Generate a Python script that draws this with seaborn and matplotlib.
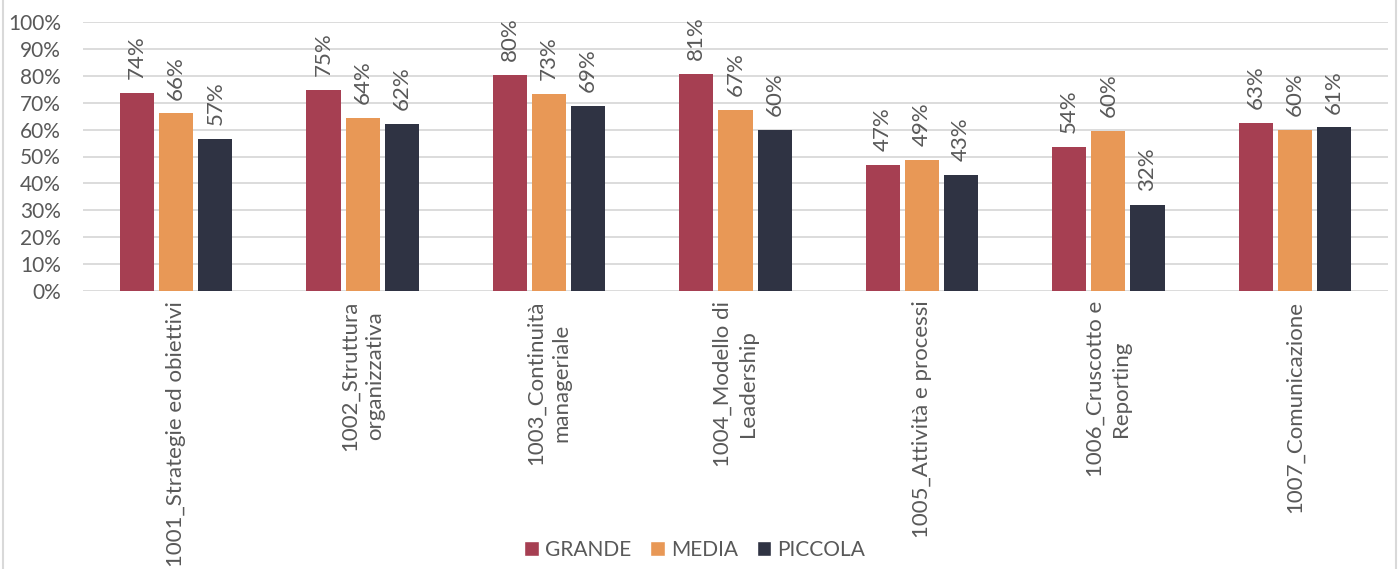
import matplotlib
matplotlib.use("Agg")
import matplotlib.pyplot as plt
from matplotlib.lines import Line2D
from matplotlib.patches import Patch
from matplotlib.ticker import FuncFormatter
import pandas as pd
import seaborn as sns

categories = [
    "1001_Strategie ed obiettivi",
    "1002_Struttura\norganizzativa",
    "1003_Continuità\nmanageriale",
    "1004_Modello di\nLeadership",
    "1005_Attività e processi",
    "1006_Cruscotto e\nReporting",
    "1007_Comunicazione",
]
sizes = ["GRANDE", "MEDIA", "PICCOLA"]
grande = [73.7, 74.8, 80.3, 80.6, 47.0, 53.6, 62.6]
media = [66.0, 64.2, 73.1, 67.3, 48.7, 59.6, 59.8]
piccola = [56.6, 62.1, 68.8, 60.0, 43.2, 32.0, 60.8]
colors = ["#A63F52", "#E89856", "#2F3343"]
yticks = [0, 10, 20, 30, 40, 50, 60, 70, 80, 90, 100]

df = pd.DataFrame({
    "area": categories * 3,
    "size": [s for s in sizes for _ in categories],
    "value": grande + media + piccola,
})

sns.set_style("white")
plt.rcParams["font.family"] = ["Lato", "DejaVu Sans"]
txt = "#595959"
grid = "#D9D9D9"

fig = plt.figure(figsize=(13.98, 5.69), dpi=100)
ax = fig.add_axes([83 / 1398, 1 - 291 / 569, (1388 - 83) / 1398, 269 / 569])

sns.barplot(data=df, x="area", y="value", hue="size", hue_order=sizes,
            palette=colors, width=0.63, gap=0.13, linewidth=0,
            saturation=1, legend=False, ax=ax)

for c in ax.containers:
    ax.bar_label(c, fmt="{:.0f}%", rotation=90, padding=10, color=txt, fontsize=16)

ax.set_ylim(0, 100)
ax.set_xlim(-0.5, len(categories) - 0.5)
ax.set_yticks(yticks)
ax.yaxis.set_major_formatter(FuncFormatter(lambda v, p: f"{v:.0f}%"))
ax.yaxis.grid(True, color=grid, linewidth=1.3)
ax.set_axisbelow(True)
for s in ax.spines.values():
    s.set_visible(False)
ax.set_xlabel("")
ax.set_ylabel("")
ax.tick_params(axis="y", length=0, pad=16, labelsize=15, labelcolor=txt)
ax.tick_params(axis="x", length=0, pad=7, labelsize=16, labelcolor=txt)
ax.set_xticks(range(len(categories)))
ax.set_xticklabels(categories, rotation=90, ha="center", va="top",
                   multialignment="center", linespacing=1.35)

handles = [Patch(facecolor=col, label=s) for s, col in zip(sizes, colors)]
fig.legend(handles=handles, loc="center", bbox_to_anchor=(0.497, 0.034),
           ncol=3, frameon=False, fontsize=15, labelcolor=txt,
           handlelength=0.7, handleheight=0.7, handletextpad=0.3,
           columnspacing=0.9)

fig.add_artist(Line2D([3 / 1398, 3 / 1398], [0, 1], transform=fig.transFigure,
                      color=grid, linewidth=1.5))
fig.add_artist(Line2D([1396 / 1398, 1396 / 1398], [0, 1], transform=fig.transFigure,
                      color=grid, linewidth=1.5))

fig.savefig("out.png", dpi=100)
